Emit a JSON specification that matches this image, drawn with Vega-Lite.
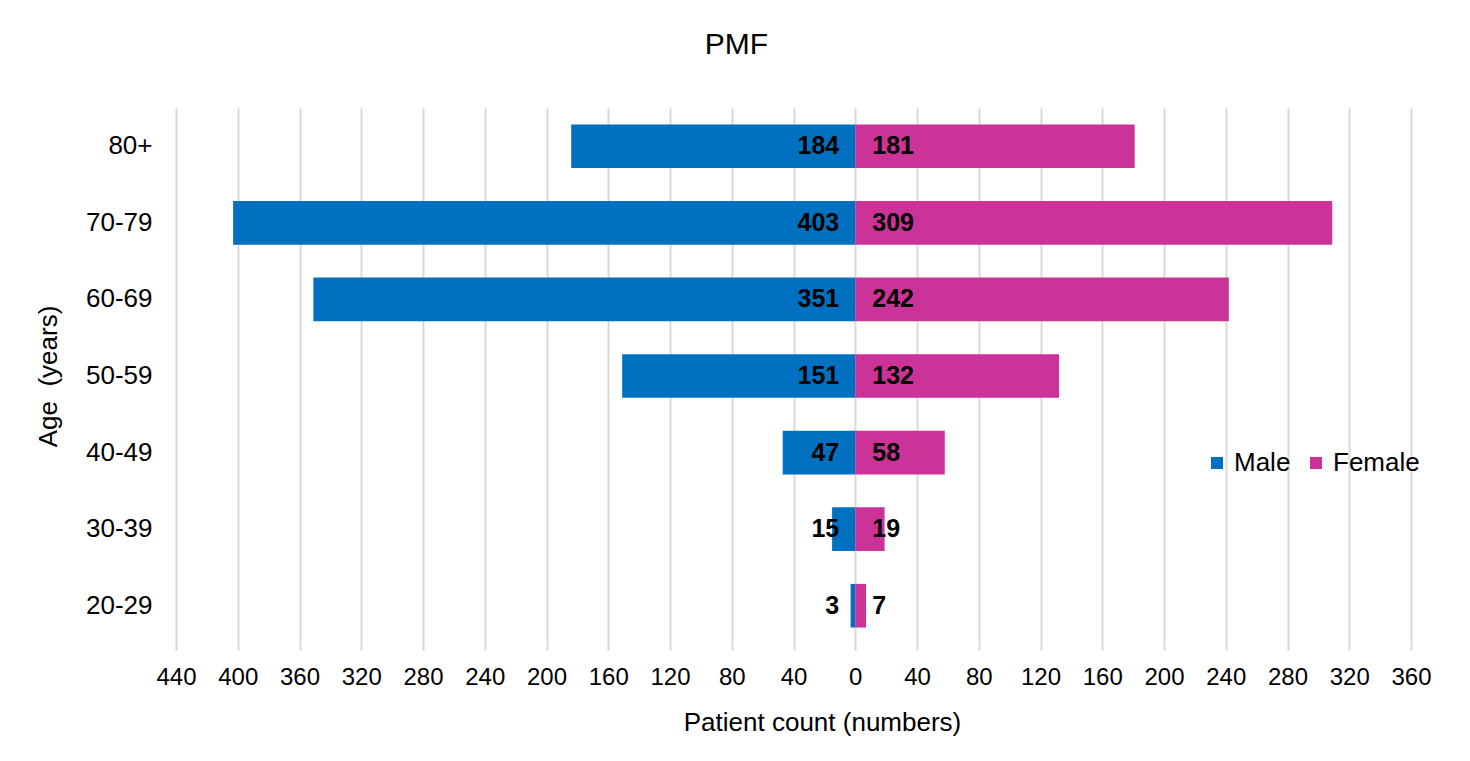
{
  "$schema": "https://vega.github.io/schema/vega-lite/v6.json",
  "width": 1235,
  "height": 536,
  "autosize": {"type": "none"},
  "padding": {"left": 176, "top": 108, "right": 59, "bottom": 117},
  "background": "white",
  "title": {"text": "PMF", "fontSize": 30, "fontWeight": "normal", "font": "Liberation Sans", "color": "black", "anchor": "middle", "dx": -57, "offset": 48},
  "data": {
    "values": [
      {"age": "80+", "sex": "Male", "count": 184},
      {"age": "70-79", "sex": "Male", "count": 403},
      {"age": "60-69", "sex": "Male", "count": 351},
      {"age": "50-59", "sex": "Male", "count": 151},
      {"age": "40-49", "sex": "Male", "count": 47},
      {"age": "30-39", "sex": "Male", "count": 15},
      {"age": "20-29", "sex": "Male", "count": 3},
      {"age": "80+", "sex": "Female", "count": 181},
      {"age": "70-79", "sex": "Female", "count": 309},
      {"age": "60-69", "sex": "Female", "count": 242},
      {"age": "50-59", "sex": "Female", "count": 132},
      {"age": "40-49", "sex": "Female", "count": 58},
      {"age": "30-39", "sex": "Female", "count": 19},
      {"age": "20-29", "sex": "Female", "count": 7}
    ]
  },
  "encoding": {
    "y": {
      "field": "age", "type": "nominal",
      "sort": ["80+", "70-79", "60-69", "50-59", "40-49", "30-39", "20-29"],
      "scale": {"paddingInner": 0.43, "paddingOuter": 0.215},
      "axis": {"title": "Age \u00a0(years)", "titleFontSize": 26, "titleFontWeight": "normal", "titleColor": "black", "titlePadding": 24, "labelFontSize": 26, "labelColor": "black", "labelPadding": 24, "ticks": false, "domain": false, "grid": false}
    }
  },
  "layer": [
    {
      "transform": [{"filter": "datum.sex === 'Male'"}],
      "layer": [
        {
          "mark": {"type": "bar"},
          "encoding": {
            "x": {"field": "count", "type": "quantitative", "scale": {"domain": [-360, 440], "reverse": true, "nice": false}, "axis": null},
            "color": {"field": "sex", "type": "nominal", "scale": {"domain": ["Male", "Female"], "range": ["#0070C0", "#CC3399"]}, "legend": {"title": null, "orient": "none", "direction": "horizontal", "legendX": 1028, "legendY": 342, "symbolType": "square", "symbolSize": 144, "symbolStrokeWidth": 0, "labelFontSize": 26, "labelColor": "black", "columnPadding": 12, "labelOffset": 4}}
          }
        },
        {
          "mark": {"type": "text", "align": "right", "baseline": "middle", "dx": -16, "fontSize": 25, "fontWeight": "bold", "color": "black"},
          "encoding": {
            "x": {"datum": 0, "type": "quantitative", "scale": {"domain": [-360, 440], "reverse": true, "nice": false}, "axis": null},
            "text": {"field": "count", "type": "quantitative"}
          }
        }
      ]
    },
    {
      "transform": [{"filter": "datum.sex === 'Female'"}],
      "layer": [
        {
          "mark": {"type": "bar"},
          "encoding": {
            "x": {"field": "count", "type": "quantitative", "scale": {"domain": [-440, 360], "nice": false},
              "axis": {"title": "Patient count (numbers)", "values": [-440, -400, -360, -320, -280, -240, -200, -160, -120, -80, -40, 0, 40, 80, 120, 160, 200, 240, 280, 320, 360], "labelExpr": "format(abs(datum.value), 'd')", "labelFlush": false, "labelOverlap": false, "grid": true, "gridColor": "#d9d9d9", "gridWidth": 2, "domain": false, "ticks": true, "tickColor": "#d9d9d9", "tickWidth": 2, "tickSize": 6, "labelFontSize": 24, "labelColor": "black", "labelPadding": 15, "titleFontSize": 26, "titleFontWeight": "normal", "titleColor": "black", "titlePadding": 20, "titleX": 646}},
            "color": {"field": "sex", "type": "nominal", "scale": {"domain": ["Male", "Female"], "range": ["#0070C0", "#CC3399"]}}
          }
        },
        {
          "mark": {"type": "rule", "color": "#d9d9d9", "strokeWidth": 3},
          "encoding": {
            "x": {"datum": 0, "type": "quantitative", "scale": {"domain": [-440, 360], "nice": false}}
          }
        },
        {
          "mark": {"type": "text", "align": "left", "baseline": "middle", "dx": 17, "fontSize": 25, "fontWeight": "bold", "color": "black"},
          "encoding": {
            "x": {"datum": 0, "type": "quantitative", "scale": {"domain": [-440, 360], "nice": false}},
            "text": {"field": "count", "type": "quantitative"}
          }
        }
      ]
    }
  ],
  "resolve": {"scale": {"x": "independent"}, "axis": {"x": "independent"}},
  "config": {
    "font": "Liberation Sans",
    "view": {"stroke": null}
  }
}
